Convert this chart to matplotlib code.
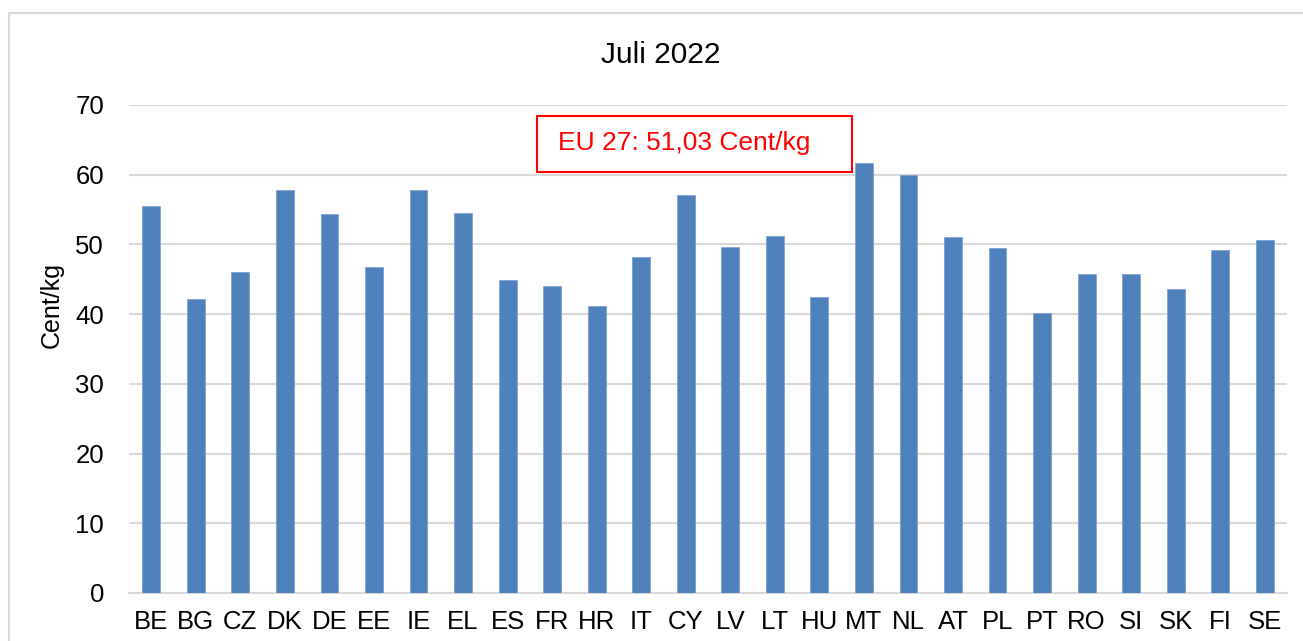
import matplotlib
matplotlib.use("Agg")
import matplotlib.pyplot as plt
from matplotlib.patches import Rectangle

plt.rcParams['font.family'] = ['Liberation Sans', 'DejaVu Sans']

countries = ["BE", "BG", "CZ", "DK", "DE", "EE", "IE", "EL", "ES", "FR", "HR", "IT", "CY", "LV",
             "LT", "HU", "MT", "NL", "AT", "PL", "PT", "RO", "SI", "SK", "FI", "SE"]
prices = [55.5, 42.1, 46.0, 57.8, 54.4, 46.7, 57.8, 54.5, 44.9, 44.1, 41.2, 48.2, 57.1, 49.6,
          51.2, 42.4, 61.7, 60.0, 51.1, 49.5, 40.1, 45.7, 45.7, 43.6, 49.2, 50.7]
eu_label = "EU 27: 51,03 Cent/kg"
title = "Juli 2022"

fig = plt.figure(figsize=(13.03, 6.41), dpi=100)
ax = fig.add_axes([0.099, 0.0749, 0.8888, 0.7613])

x = range(len(countries))
ax.bar(x, prices, width=0.4, color="#4f81bd", edgecolor="#7fa3d1", linewidth=0.6, zorder=3)

ax.set_xlim(-0.5, len(countries) - 0.5)
ax.set_ylim(0, 70)
ax.set_yticks(range(0, 71, 10))
ax.set_xticks(list(x))
ax.set_xticklabels(countries)
ax.tick_params(axis="both", length=0, labelsize=18.5)
ax.tick_params(axis="x", pad=12)
ax.tick_params(axis="y", pad=18)
ax.grid(axis="y", color="#d9d9d9", linewidth=1.5, zorder=0)
for s in ["top", "right", "left"]:
    ax.spines[s].set_visible(False)
ax.spines["bottom"].set_color("#d9d9d9")
ax.spines["bottom"].set_linewidth(1.5)

fig.text(52 / 1303, 1 - 305 / 641, "Cent/kg", rotation=90, ha="center", va="center", fontsize=18)
fig.text(0.507, 1 - 63 / 641, title, ha="center", va="baseline", fontsize=21.5)

# chart frame
fig.patches.append(Rectangle((9 / 1303, -0.1), 1.2, 1 - 13 / 641 + 0.1, transform=fig.transFigure,
                             fill=False, edgecolor="#d9d9d9", linewidth=1.5))
# EU annotation box
fig.patches.append(Rectangle((537 / 1303, 1 - 172 / 641), 315 / 1303, 56 / 641, transform=fig.transFigure,
                             fill=True, facecolor="white", edgecolor="red", linewidth=1.5, zorder=5))
fig.text(558 / 1303, 1 - 150 / 641, eu_label, color="red", fontsize=19, ha="left", va="baseline", zorder=6)

fig.savefig("out.png", dpi=100)
